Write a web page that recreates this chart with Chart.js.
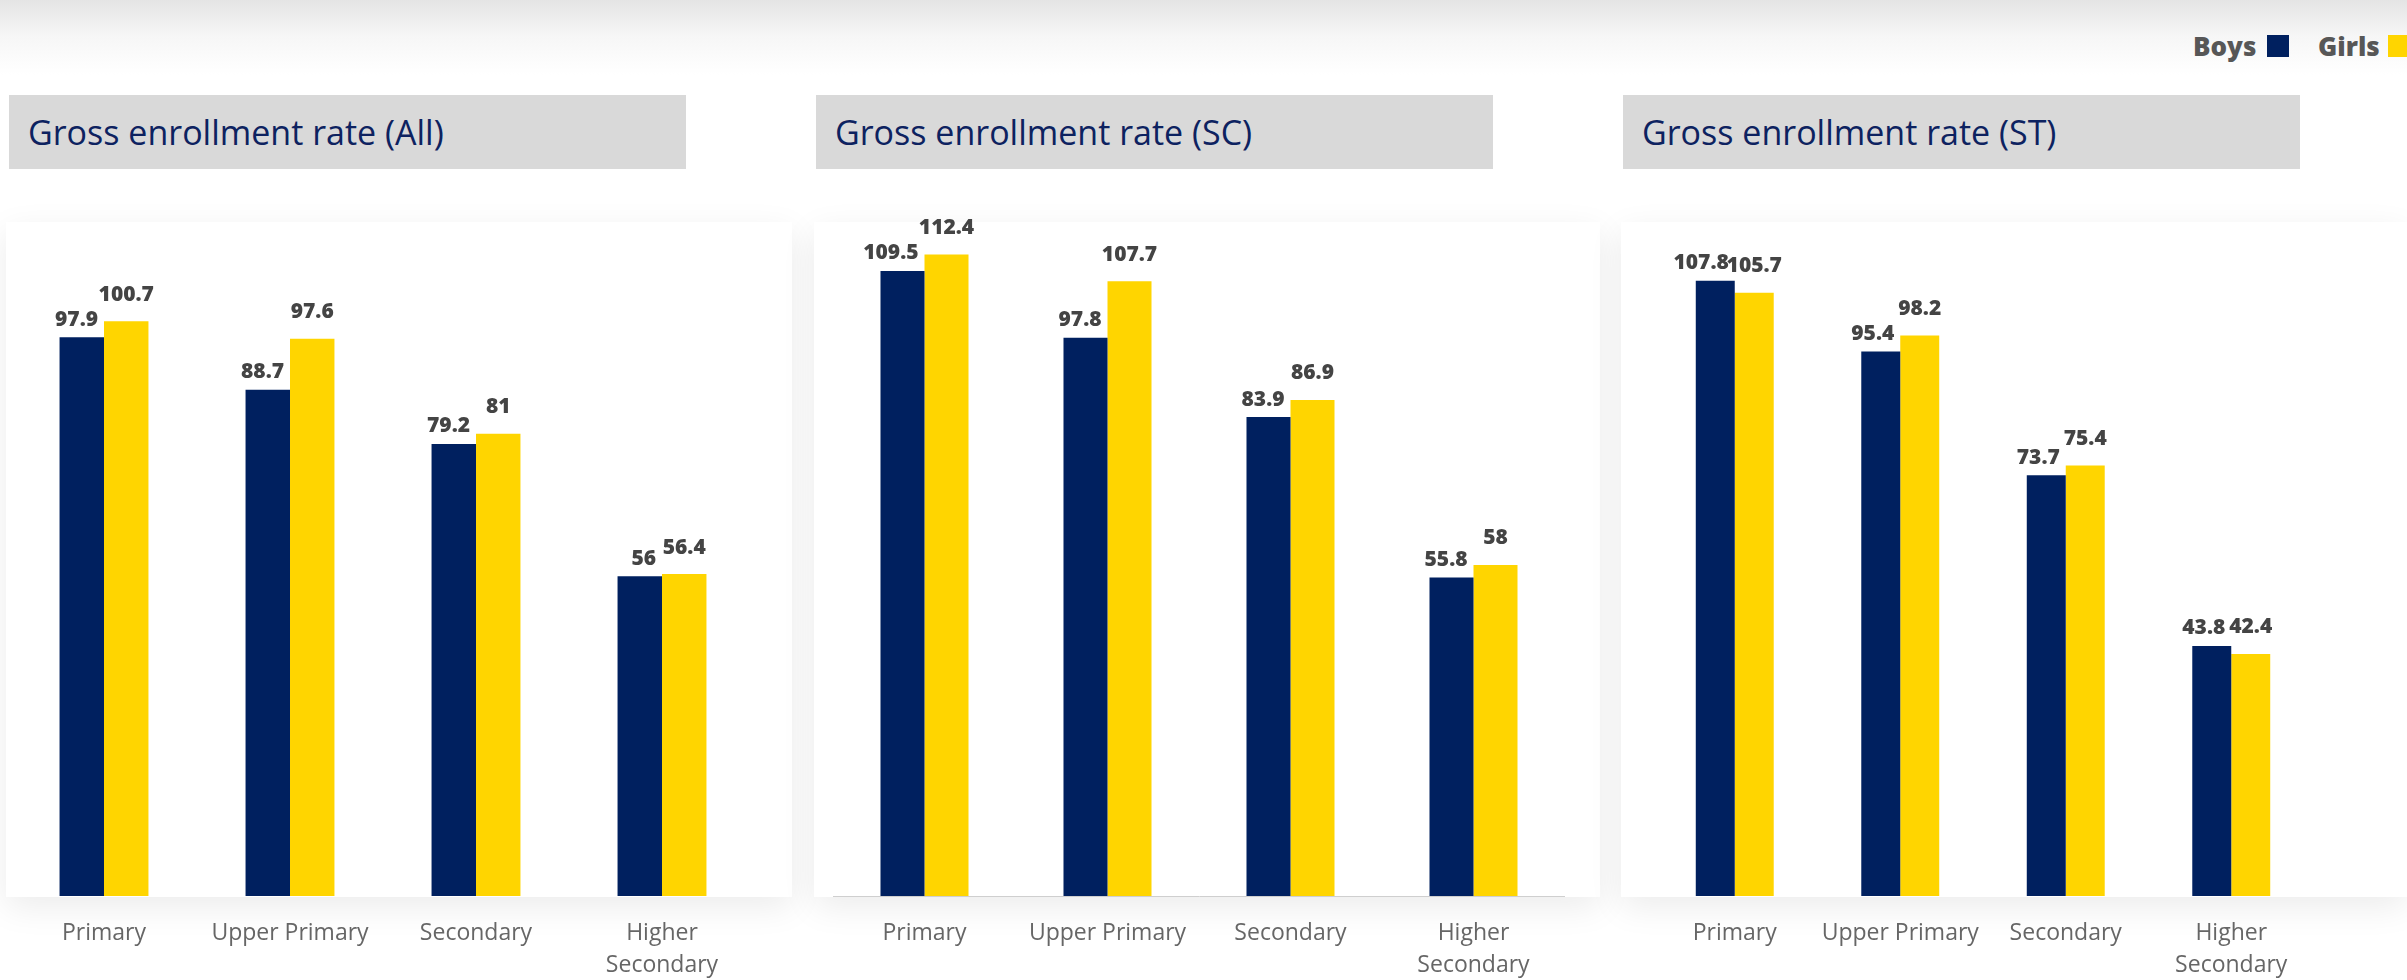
<!DOCTYPE html>
<html>
<head>
<meta charset="utf-8">
<script src="https://cdn.jsdelivr.net/npm/chart.js@4.4.1/dist/chart.umd.min.js"></script>
<style>
  html, body { margin: 0; padding: 0; }
  body {
    width: 2407px; height: 980px; overflow: hidden; position: relative;
    background: linear-gradient(to bottom, #e4e4e4 0px, #f6f6f6 35px, #ffffff 75px);
    font-family: 'Open Sans', sans-serif;
  }
  .legend { position: absolute; top: 28px; font-weight: 800; font-size: 26px; color: #575757; font-family: 'Open Sans', sans-serif; }
  .legend span.sq { position: absolute; top: 7px; width: 22px; height: 22px; }
  .title {
    position: absolute; top: 95px; height: 74px; width: 677px; background: #d9d9d9;
    color: #0d2260; font-size: 34px; line-height: 74px; box-sizing: border-box; padding-left: 19px;
  }
  .card {
    position: absolute; top: 222px; height: 675px; width: 786px; background: #fff;
    box-shadow: 0 10px 32px rgba(0,0,0,0.08);
  }
  .wrap { position: absolute; top: 211px; height: 769px; z-index: 2; }
</style>
</head>
<body>
<div class="legend" style="left:2193px;">Boys<span class="sq" style="left:74px;background:#00205f;"></span></div>
<div class="legend" style="left:2318px;">Girls<span class="sq" style="left:70px;background:#ffd500;"></span></div>

<div class="title" style="left:9px;">Gross enrollment rate (All)</div>
<div class="title" style="left:816px;">Gross enrollment rate (SC)</div>
<div class="title" style="left:1623px;">Gross enrollment rate (ST)</div>

<div class="card" style="left:6px;"></div>
<div class="card" style="left:814px;"></div>
<div class="card" style="left:1621px;"></div>

<div class="wrap" style="left:11px; width:744px;"><canvas id="c1"></canvas></div>
<div class="wrap" style="left:833px; width:732px;"><canvas id="c2"></canvas></div>
<div class="wrap" style="left:1652px; width:662px;"><canvas id="c3"></canvas></div>

<script>
// categories and values
const categories = ['Primary', 'Upper Primary', 'Secondary', ['Higher', 'Secondary']];
const seriesNames = ['Boys', 'Girls'];

const allBoys = [97.9, 88.7, 79.2, 56];
const allGirls = [100.7, 97.6, 81, 56.4];
const scBoys = [109.5, 97.8, 83.9, 55.8];
const scGirls = [112.4, 107.7, 86.9, 58];
const stBoys = [107.8, 95.4, 73.7, 43.8];
const stGirls = [105.7, 98.2, 75.4, 42.4];

const boysColor = '#00205f';
const girlsColor = '#ffd500';

// draws the value above each bar (boys label pushed left so it clears the girls one)
const valueLabels = {
  id: 'valueLabels',
  afterDatasetsDraw(chart) {
    const ctx = chart.ctx;
    ctx.save();
    ctx.font = "800 21px 'Open Sans', sans-serif";
    ctx.fillStyle = '#444';
    ctx.textBaseline = 'bottom';
    chart.data.datasets.forEach((ds, i) => {
      const meta = chart.getDatasetMeta(i);
      meta.data.forEach((bar, j) => {
        const txt = String(ds.data[j]);
        if (i === 0) {
          ctx.textAlign = 'right';
          ctx.fillText(txt, bar.x + bar.width / 2 - 6, bar.y - 7);
        } else {
          ctx.textAlign = 'center';
          ctx.fillText(txt, bar.x, bar.y - 16);
        }
      });
    });
    ctx.restore();
  }
};

function makeChart(id, boys, girls, catPct, showBorder) {
  return new Chart(document.getElementById(id), {
    type: 'bar',
    data: {
      labels: categories,
      datasets: [
        { label: seriesNames[0], data: boys, backgroundColor: boysColor },
        { label: seriesNames[1], data: girls, backgroundColor: girlsColor }
      ]
    },
    options: {
      responsive: true,
      maintainAspectRatio: false,
      animation: false,
      layout: { padding: 0 },
      datasets: { bar: { barPercentage: 1, categoryPercentage: catPct } },
      plugins: { legend: { display: false }, tooltip: { enabled: false } },
      scales: {
        x: {
          grid: { display: false },
          border: { display: showBorder, color: '#cfcfcf', width: 1 },
          ticks: {
            color: '#666',
            padding: 13,
            maxRotation: 0,
            autoSkip: false,
            font: { family: "'Open Sans', sans-serif", size: 23, lineHeight: 1.4 }
          },
          afterFit(axis) { axis.height = 84; }
        },
        y: {
          display: false,
          min: 0,
          max: 120
        }
      }
    },
    plugins: [valueLabels]
  });
}

makeChart('c1', allBoys, allGirls, 0.478, false);
makeChart('c2', scBoys, scGirls, 0.481, true);
makeChart('c3', stBoys, stGirls, 0.471, false);
</script>
</body>
</html>
